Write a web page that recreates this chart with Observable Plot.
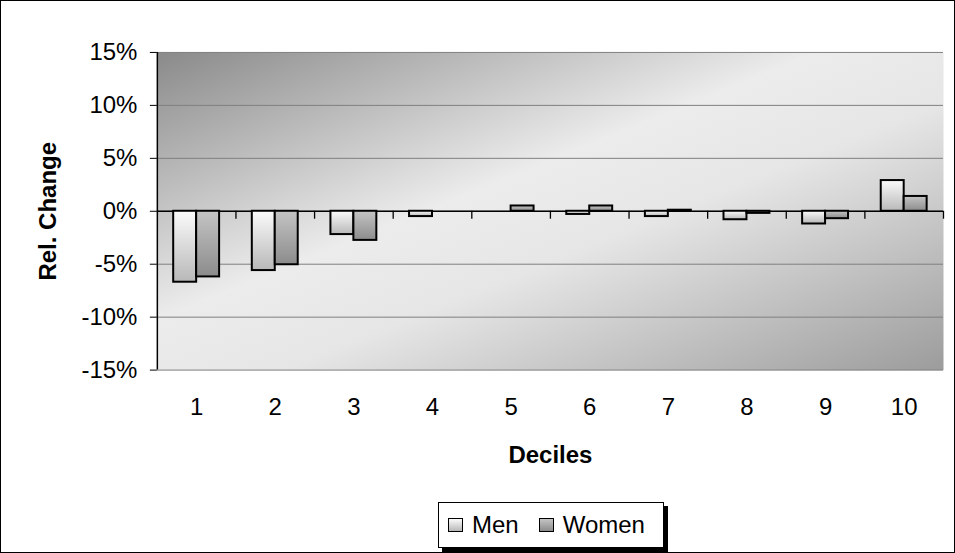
<!DOCTYPE html>
<html><head><meta charset="utf-8">
<script src="https://cdn.jsdelivr.net/npm/d3@7"></script>
<script src="https://cdn.jsdelivr.net/npm/@observablehq/plot@0.6"></script>
<style>
body{margin:0;background:#fff;font-family:"Liberation Sans",Arial,sans-serif;}
#wrap{position:relative;width:955px;height:553px;box-sizing:border-box;border:1px solid #000;overflow:hidden;background:#fff;}
#chart{position:absolute;left:-1px;top:-1px;}
#chart svg{overflow:visible;}
g[aria-label="y-axis label"] text, g[aria-label="x-axis label"] text{font-weight:bold;}
.legend{position:absolute;left:437px;top:501px;width:226px;height:46px;box-sizing:border-box;border:1px solid #000;background:#fff;box-shadow:4px 4px 0 #000;display:flex;align-items:center;font-size:24px;color:#000;}
.item{display:flex;align-items:center;margin-left:9px;}
.item+.item{margin-left:20px;}
.sw{width:13px;height:12px;border:1px solid #000;margin-right:9px;}
</style></head>
<body>
<div id="wrap"><div id="chart"></div><div class="legend" id="legend"></div></div>
<script>
const deciles = [1, 2, 3, 4, 5, 6, 7, 8, 9, 10];
const men =   [-6.7, -5.6, -2.2, -0.5, 0.0, -0.3, -0.5, -0.8, -1.2, 2.9];
const women = [-6.2, -5.05, -2.75, 0.0, 0.5, 0.5, 0.1, -0.2, -0.7, 1.4];
const series = ["Men", "Women"];
const yTicks = [-15, -10, -5, 0, 5, 10, 15];
const barWidth = 0.292;

const menRows = deciles.map((d, i) => ({decile: d, value: men[i]})).filter(r => r.value !== 0);
const womenRows = deciles.map((d, i) => ({decile: d, value: women[i]})).filter(r => r.value !== 0);
const boundaries = deciles.map(d => d - 0.5).concat([deciles[deciles.length - 1] + 0.5]);

const plot = Plot.plot({
  width: 955, height: 553,
  marginLeft: 157, marginRight: 11, marginTop: 52, marginBottom: 183,
  style: {fontSize: "24px", fontFamily: "'Liberation Sans', Arial, sans-serif", color: "#000", background: "transparent"},
  x: {domain: [boundaries[0], boundaries[boundaries.length - 1]]},
  y: {domain: [-15, 15]},
  marks: [
    Plot.frame({fill: "url(#bg)", stroke: null}),
    Plot.gridY(yTicks, {stroke: "#808080", strokeOpacity: 1, strokeWidth: 1}),
    Plot.ruleY([0], {stroke: "#000", strokeWidth: 1.3}),
    Plot.ruleX(boundaries.slice(1), {y1: 0, y2: -0.75, stroke: "#000", strokeWidth: 1.3}),
    Plot.rectY(menRows, {x1: d => d.decile - barWidth, x2: "decile", y: "value", fill: "url(#gMen)", stroke: "#000", strokeWidth: 2}),
    Plot.rectY(womenRows, {x1: "decile", x2: d => d.decile + barWidth, y: "value", fill: "url(#gWomen)", stroke: "#000", strokeWidth: 2}),
    Plot.ruleX([boundaries[0]], {stroke: "#000", strokeWidth: 1.5}),
    Plot.axisY(yTicks, {tickFormat: d => d + "%", tickSize: 7, tickPadding: 13, label: "Rel. Change", labelAnchor: "center", labelOffset: 119, labelArrow: "none"}),
    Plot.axisX(deciles, {tickSize: 0, tickPadding: 28, label: "Deciles", labelAnchor: "center", labelOffset: 93, labelArrow: "none"})
  ]
});

const svg = d3.select(plot);
const defs = svg.insert("defs", ":first-child");
const bg = defs.append("linearGradient").attr("id", "bg").attr("x1", 0).attr("y1", 0).attr("x2", 1).attr("y2", 1);
[[0, "#8a8a8a"], [0.42, "#ececec"], [0.58, "#e6e6e6"], [1, "#9c9c9c"]].forEach(([o, c]) => bg.append("stop").attr("offset", o).attr("stop-color", c));
const gm = defs.append("linearGradient").attr("id", "gMen").attr("x1", 0).attr("y1", 0).attr("x2", 0).attr("y2", 1);
[[0, "#fbfbfb"], [1, "#b8b8b8"]].forEach(([o, c]) => gm.append("stop").attr("offset", o).attr("stop-color", c));
const gw = defs.append("linearGradient").attr("id", "gWomen").attr("x1", 0).attr("y1", 0).attr("x2", 0).attr("y2", 1);
[[0, "#c4c4c4"], [1, "#8c8c8c"]].forEach(([o, c]) => gw.append("stop").attr("offset", o).attr("stop-color", c));

document.getElementById("chart").appendChild(plot);

const swatchBg = {Men: "linear-gradient(#fbfbfb,#b8b8b8)", Women: "linear-gradient(#c4c4c4,#8c8c8c)"};
const legend = d3.select("#legend");
series.forEach(s => {
  const it = legend.append("div").attr("class", "item");
  it.append("div").attr("class", "sw").style("background", swatchBg[s]);
  it.append("span").text(s);
});
</script>
</body></html>
